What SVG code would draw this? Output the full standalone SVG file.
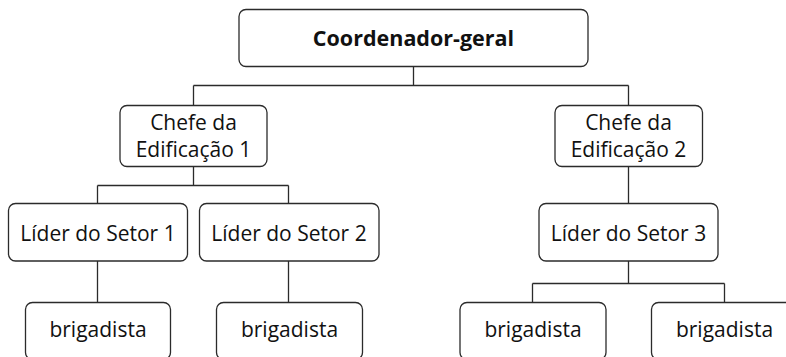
<svg xmlns="http://www.w3.org/2000/svg" width="786" height="357" viewBox="0 0 786 357">
<style>
.box{fill:#fff;stroke:#2b2b2b;stroke-width:1.3}
.ln{fill:none;stroke:#2b2b2b;stroke-width:1.3}
text{font-family:"Open Sans","Noto Sans",sans-serif;font-size:21px;fill:#111;text-anchor:middle}
.b{font-weight:bold;font-size:21.5px}
</style>
<rect width="786" height="357" fill="#fff"/>
<g id="connectors" class="ln">
<path d="M413.5 66.5V85.5M193.5 85.5H628.5M193.5 85.5V105.5M628.5 85.5V105.5"/>
<path d="M193.5 166.5V185.5M97.5 185.5H288.5M97.5 185.5V203.5M288.5 185.5V203.5"/>
<path d="M97.5 261V302.5M288.5 261V302.5"/>
<path d="M628.5 166.5V203.5M628.5 261V283.5M532.5 283.5H724.5M532.5 283.5V302.5M724.5 283.5V302.5"/>
</g>
<g id="coordenador"><rect class="box" x="239" y="9.5" width="349" height="57" rx="7"/><text class="b" x="413.5" y="46">Coordenador-geral</text></g>
<g id="chefe1"><rect class="box" x="120" y="105.5" width="147" height="61" rx="7"/><text x="193.5" y="129.5">Chefe da</text><text x="193.5" y="157">Edificação 1</text></g>
<g id="chefe2"><rect class="box" x="555" y="105.5" width="147.5" height="61" rx="7"/><text x="628.5" y="129.5">Chefe da</text><text x="628.5" y="157">Edificação 2</text></g>
<g id="lider1"><rect class="box" x="8.5" y="203.5" width="179" height="57.5" rx="7"/><text x="98" y="240.5">Líder do Setor 1</text></g>
<g id="lider2"><rect class="box" x="199.5" y="203.5" width="179.5" height="57.5" rx="7"/><text x="289" y="240.5">Líder do Setor 2</text></g>
<g id="lider3"><rect class="box" x="539" y="203.5" width="179" height="57.5" rx="7"/><text x="628.5" y="240.5">Líder do Setor 3</text></g>
<g id="brig1"><rect class="box" x="25.5" y="302.5" width="145" height="57" rx="7"/><text x="98" y="337">brigadista</text></g>
<g id="brig2"><rect class="box" x="216.5" y="302.5" width="146" height="57" rx="7"/><text x="289.5" y="337">brigadista</text></g>
<g id="brig3"><rect class="box" x="460" y="302.5" width="146" height="57" rx="7"/><text x="533" y="337">brigadista</text></g>
<g id="brig4"><rect class="box" x="651.5" y="302.5" width="146" height="57" rx="7"/><text x="724.5" y="337">brigadista</text></g>
</svg>
